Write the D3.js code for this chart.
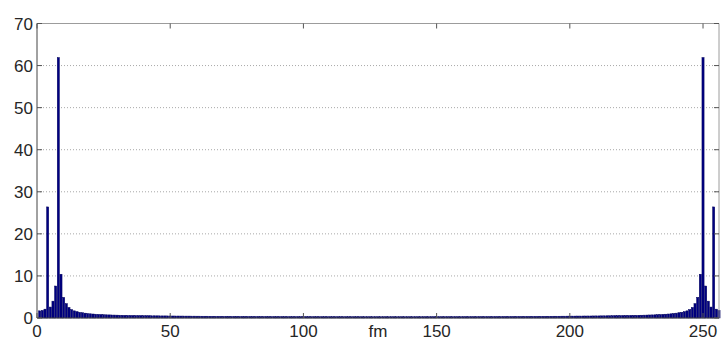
<!DOCTYPE html>
<html>
<head>
<meta charset="utf-8">
<script src="https://cdn.jsdelivr.net/npm/d3@7/dist/d3.min.js"></script>
<style>
  body { margin: 0; background: #fff; }
  svg { display: block; font-family: "Liberation Sans", Arial, sans-serif; }
</style>
</head>
<body>
<div id="chart"></div>
<script>
// magnitude spectrum, bins 1..256
const magLeft = [
  1.7, 1.8, 2.1, 26.4, 2.6, 4.0, 7.6, 61.9, 10.4, 4.9,
  3.4, 2.5, 2.0, 1.7, 1.5, 1.35, 1.25, 1.15, 1.07, 1.0,
  0.95, 0.9, 0.86, 0.82, 0.79, 0.76, 0.74, 0.72, 0.7, 0.68,
  0.66, 0.65, 0.63, 0.62, 0.61, 0.6, 0.59, 0.58, 0.57, 0.56,
  0.55, 0.54, 0.53, 0.53, 0.52, 0.51, 0.5, 0.5, 0.49, 0.48,
  0.48, 0.47, 0.47, 0.46, 0.46, 0.45, 0.45, 0.44, 0.44, 0.43,
  0.43, 0.42, 0.42, 0.42, 0.41, 0.41, 0.4, 0.4, 0.4, 0.39,
  0.39, 0.39, 0.38, 0.38, 0.38, 0.37, 0.37, 0.37, 0.37, 0.36,
  0.36, 0.36, 0.36, 0.35, 0.35, 0.35, 0.35, 0.34, 0.34, 0.34,
  0.34, 0.34, 0.33, 0.33, 0.33, 0.33, 0.33, 0.33, 0.32, 0.32,
  0.32, 0.32, 0.32, 0.32, 0.32, 0.31, 0.31, 0.31, 0.31, 0.31,
  0.31, 0.31, 0.31, 0.31, 0.3, 0.3, 0.3, 0.3, 0.3, 0.3,
  0.3, 0.3, 0.3, 0.3, 0.3, 0.3, 0.3, 0.3, 0.3
];
const magRight = [
  0.3, 0.3, 0.3, 0.3, 0.3, 0.3, 0.3, 0.3, 0.3, 0.3,
  0.3, 0.3, 0.3, 0.3, 0.31, 0.31, 0.31, 0.31, 0.31, 0.31,
  0.31, 0.31, 0.31, 0.32, 0.32, 0.32, 0.32, 0.32, 0.32, 0.32,
  0.33, 0.33, 0.33, 0.33, 0.33, 0.33, 0.34, 0.34, 0.34, 0.34,
  0.34, 0.35, 0.35, 0.35, 0.35, 0.36, 0.36, 0.36, 0.36, 0.37,
  0.37, 0.37, 0.37, 0.38, 0.38, 0.38, 0.39, 0.39, 0.39, 0.4,
  0.4, 0.4, 0.41, 0.41, 0.42, 0.42, 0.42, 0.43, 0.43, 0.44,
  0.44, 0.45, 0.45, 0.46, 0.46, 0.47, 0.47, 0.48, 0.48, 0.49,
  0.5, 0.5, 0.51, 0.52, 0.53, 0.53, 0.54, 0.55, 0.56, 0.57,
  0.58, 0.59, 0.6, 0.61, 0.62, 0.63, 0.65, 0.66, 0.68, 0.7,
  0.72, 0.74, 0.76, 0.79, 0.82, 0.86, 0.9, 0.95, 1.0, 1.07,
  1.15, 1.25, 1.35, 1.5, 1.7, 2.0, 2.5, 3.4, 4.9, 10.4,
  61.9, 7.6, 4.0, 2.6, 26.4, 2.1, 1.8
];
const magnitude = magLeft.concat(magRight);
const bins = d3.range(1, magnitude.length + 1);

const xTicks = [0, 50, 100, 150, 200, 250];
const yTicks = [0, 10, 20, 30, 40, 50, 60, 70];
const xLabel = 'fm';

const width = 721, height = 340;
const plotLeft = 37, plotRight = 719, plotTop = 23.5, plotBottom = 318;

const svg = d3.select('#chart').append('svg')
  .attr('width', width)
  .attr('height', height);

svg.append('rect').attr('width', width).attr('height', height).attr('fill', '#fff');

const x = d3.scaleLinear().domain([0, 256]).range([plotLeft, plotRight]);
const y = d3.scaleLinear().domain([0, 70]).range([plotBottom, plotTop]);

// dotted horizontal grid
svg.append('g')
  .selectAll('line')
  .data(yTicks.filter(d => d > 0 && d < 70))
  .enter()
  .append('line')
  .attr('x1', plotLeft)
  .attr('x2', plotRight)
  .attr('y1', d => y(d))
  .attr('y2', d => y(d))
  .attr('stroke', '#a8a8a8')
  .attr('stroke-width', 1)
  .attr('stroke-dasharray', '1,2');

// bars (matlab style: 0.8 width with a dark edge)
const barW = x(0.8) - x(0);
svg.append('g')
  .selectAll('rect')
  .data(bins)
  .enter()
  .append('rect')
  .attr('x', d => x(d) - barW / 2)
  .attr('y', (d, i) => y(magnitude[i]))
  .attr('width', barW)
  .attr('height', (d, i) => y(0) - y(magnitude[i]))
  .attr('fill', '#000082')
  .attr('stroke', '#00005a')
  .attr('stroke-width', 0.5);

// box
svg.append('line').attr('x1', plotLeft).attr('x2', plotRight).attr('y1', plotTop).attr('y2', plotTop)
  .attr('stroke', '#9c9c9c');
svg.append('line').attr('x1', plotRight).attr('x2', plotRight).attr('y1', plotTop).attr('y2', plotBottom)
  .attr('stroke', '#9c9c9c');
svg.append('line').attr('x1', plotLeft).attr('x2', plotLeft).attr('y1', plotTop).attr('y2', plotBottom)
  .attr('stroke', '#444');
svg.append('line').attr('x1', plotLeft).attr('x2', plotRight).attr('y1', plotBottom).attr('y2', plotBottom)
  .attr('stroke', '#444');

// inward ticks
const tickLen = 5;
const yTickG = svg.append('g').attr('stroke', '#555');
yTicks.forEach(t => {
  yTickG.append('line').attr('x1', plotLeft).attr('x2', plotLeft + tickLen).attr('y1', y(t)).attr('y2', y(t));
  yTickG.append('line').attr('x1', plotRight - tickLen).attr('x2', plotRight).attr('y1', y(t)).attr('y2', y(t));
});
const xTickG = svg.append('g').attr('stroke', '#555');
xTicks.forEach(t => {
  xTickG.append('line').attr('x1', x(t)).attr('x2', x(t)).attr('y1', plotBottom).attr('y2', plotBottom - tickLen);
  xTickG.append('line').attr('x1', x(t)).attr('x2', x(t)).attr('y1', plotTop).attr('y2', plotTop + tickLen);
});

// tick labels
svg.append('g')
  .selectAll('text')
  .data(yTicks)
  .enter()
  .append('text')
  .attr('x', plotLeft - 4)
  .attr('y', d => y(d))
  .attr('dy', '0.36em')
  .attr('text-anchor', 'end')
  .attr('font-size', 17)
  .attr('fill', '#262626')
  .text(d => d);

svg.append('g')
  .selectAll('text')
  .data(xTicks)
  .enter()
  .append('text')
  .attr('x', d => x(d))
  .attr('y', 337)
  .attr('text-anchor', 'middle')
  .attr('font-size', 17)
  .attr('fill', '#262626')
  .text(d => d);

svg.append('text')
  .attr('x', (plotLeft + plotRight) / 2)
  .attr('y', 337)
  .attr('text-anchor', 'middle')
  .attr('font-size', 17)
  .attr('fill', '#262626')
  .text(xLabel);
</script>
</body>
</html>
